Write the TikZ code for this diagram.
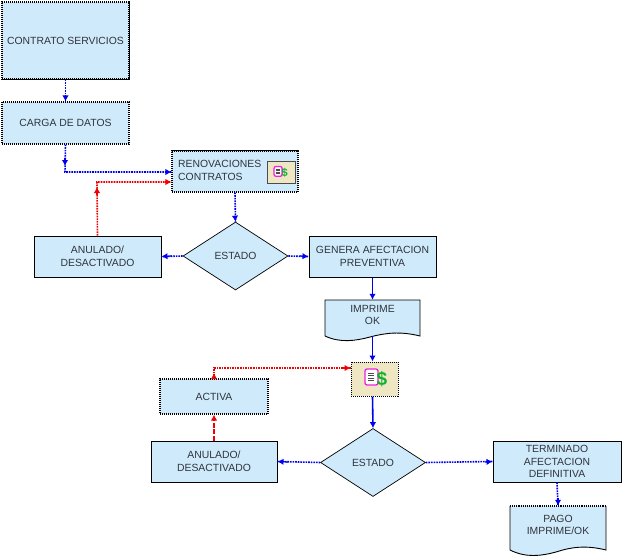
\documentclass[tikz,border=0pt]{standalone}
\usepackage{fontspec}
\setmainfont{Liberation Sans}
\usetikzlibrary{arrows.meta,shapes.geometric}
\definecolor{boxfill}{HTML}{CFEBFB}
\definecolor{icofill}{HTML}{EFE6C4}
\definecolor{txt}{HTML}{30343C}
\definecolor{flowblue}{HTML}{0000F0}
\definecolor{flowred}{HTML}{F00000}
\definecolor{icopink}{HTML}{F020E0}
\definecolor{icogreen}{HTML}{10B030}
\tikzset{
  x=1pt,y=-1pt,
  every node/.style={font=\fontsize{10.4}{12.5}\selectfont,text=txt,align=center,inner sep=0pt},
  plainbox/.style={rectangle,fill=boxfill,draw=black,line width=1pt},
  dotbox/.style={plainbox,densely dotted,line width=1.2pt},
  decision/.style={diamond,aspect=1.5,fill=boxfill,draw=black,line width=0.7pt,minimum width=105pt,minimum height=68pt},
  docshape/.style={fill=boxfill,draw=black,line width=0.9pt},
  bluesolid/.style={flowblue,line width=1.6pt},
  bluedot/.style={flowblue,line width=1.6pt,densely dotted},
  reddot/.style={flowred,line width=1.6pt,densely dotted},
  tip/.style={solid,-{Latex[length=6pt,width=6.5pt,sep=0pt]}},
  icobox/.style={rectangle,fill=icofill,draw=black!70,line width=1pt},
}
\newcommand{\icondoc}[4]{% centre x, centre y, scale, dollar size
  \begin{scope}[shift={(#1,#2)},scale=#3]
    \draw[icopink,fill=white,line width=1.3pt,rounded corners=2pt] (-8,-9) rectangle (5,7);
    \foreach \yy in {-5,-2.5,0,2.5}{\draw[black!70,line width=0.8pt] (-5,\yy) -- (1,\yy);}
    \node[font=\bfseries\fontsize{#4}{#4}\selectfont,text=icogreen] at (9,1) {\$};
  \end{scope}}
\begin{document}
\begin{tikzpicture}
\useasboundingbox (0,0) rectangle (623,559);
% document shapes
\draw[docshape] (325,300) -- (420,300) -- (420,336) .. controls (400,331) and (385,333) .. (370,337) .. controls (355,341) and (340,343) .. (325,336) -- cycle;
\fill[boxfill] (510,506) -- (606,506) -- (606,550) .. controls (586,545) and (571,547) .. (556,552) .. controls (541,556) and (526,558) .. (510,550) -- cycle;
\draw[black,line width=1.1pt,densely dotted] (510,506) -- (606,506);
\draw[black,line width=0.9pt] (606,506) -- (606,550) .. controls (586,545) and (571,547) .. (556,552) .. controls (541,556) and (526,558) .. (510,550) -- (510,506);
% boxes
\node[dotbox,minimum width=127pt,minimum height=77pt] (contrato) at (65.5,40.5) {CONTRATO SERVICIOS};
\node[dotbox,minimum width=127pt,minimum height=42pt] (carga) at (65.5,123) {CARGA DE DATOS};
\node[dotbox,minimum width=126pt,minimum height=41pt] (renov) at (235,171.5) {};
\node[anchor=west,align=left] (renovtxt) at (178,170.5) {RENOVACIONES\\CONTRATOS};
\node[plainbox,minimum width=127pt,minimum height=41pt] (anua) at (97.5,256.5) {ANULADO/\\DESACTIVADO};
\node[plainbox,minimum width=127pt,minimum height=41pt] (genera) at (372.5,256.5) {GENERA AFECTACION\\PREVENTIVA};
\node[decision] (esta) at (235.5,256) {ESTADO};
\node[minimum width=95pt,minimum height=36pt] (impr) at (372.5,318) {};
\node (imprtxt) at (372.5,315) {IMPRIME\\OK};
\node[dotbox,minimum width=108pt,minimum height=35pt] (activa) at (214,396.5) {ACTIVA};
\node[plainbox,minimum width=126pt,minimum height=41pt] (anub) at (214,461.5) {ANULADO/\\DESACTIVADO};
\node[decision] (estb) at (373,462.5) {ESTADO};
\node[plainbox,minimum width=128pt,minimum height=41pt] (term) at (557,461.5) {TERMINADO\\AFECTACION\\DEFINITIVA};
\node[minimum width=96pt,minimum height=44pt] (pago) at (558,528) {};
\node (pagotxt) at (558,525) {PAGO\\IMPRIME/OK};
% solid edges over dotted boxes
\draw[black,line width=1pt] (contrato.north east) -- (contrato.south east) -- (contrato.south west);
\draw[black,line width=1pt] (renov.north west) -- (renov.north east);
% icons
\node[icobox,minimum width=28pt,minimum height=22pt] (icoa) at (281,172) {};
\icondoc{279}{172}{0.62}{11}
\node[icobox,draw=black,densely dotted,minimum width=47pt,minimum height=34pt] (icob) at (374.5,379) {};
\icondoc{373}{378}{1}{19}
% helper points
\coordinate (cargacorner) at (65,172);
\coordinate (cargamid) at (65,166);
\coordinate (anucorner) at (97,182);
\coordinate (anumid) at (97,187);
\coordinate (actcorner) at (214,368);
\coordinate (actmid) at (214,373);
% connectors
\draw[bluedot] (contrato.south) -- (carga.north);
\draw[tip,flowblue,line width=1.2pt] (65.5,96) -- (carga.north);
\draw[bluedot] (carga.south) -- (cargacorner) -- (renov.west |- cargacorner);
\draw[tip,flowblue,line width=1.2pt] (65,158) -- (cargamid);
\draw[tip,flowblue,line width=1.2pt] (165,172) -- (renov.west |- cargacorner);
\draw[reddot] (anua.north) -- (anucorner) -- (renov.west |- anucorner);
\draw[tip,flowred,line width=1.2pt] (97,195) -- (anumid);
\draw[tip,flowred,line width=1.2pt] (165,182) -- (renov.west |- anucorner);
\draw[bluedot] (renov.south) -- (esta.north);
\draw[tip,flowblue,line width=1.2pt] (235,216) -- (esta.north);
\draw[bluedot] (esta.west) -- (anua.east);
\draw[tip,flowblue,line width=1.2pt] (172,256) -- (anua.east);
\draw[bluedot] (esta.east) -- (genera.west);
\draw[tip,flowblue,line width=1.2pt] (300,256) -- (genera.west);
\draw[tip,bluesolid] (genera.south) -- (impr.north);
\draw[tip,bluesolid] (impr.south) -- (impr.south |- icob.north);
\draw[tip,bluesolid] (impr.south |- icob.south) -- (estb.north);
\draw[reddot] (activa.north) -- (actcorner) -- (icob.west |- actcorner);
\draw[tip,flowred,line width=1.2pt] (214,378) -- (actmid);
\draw[tip,flowred,line width=1.2pt] (342,368) -- (icob.west |- actcorner);
\draw[tip,flowred,line width=1.6pt,dash pattern=on 5pt off 1.5pt] (anub.north) -- (activa.south);
\draw[bluedot] (estb.west) -- (anub.east);
\draw[tip,flowblue,line width=1.2pt] (288,462) -- (anub.east);
\draw[bluedot] (estb.east) -- (term.west);
\draw[tip,flowblue,line width=1.2pt] (485,462) -- (term.west);
\draw[bluedot] (term.south) -- (pago.north);
\draw[tip,flowblue,line width=1.2pt] (558,498) -- (pago.north);
\end{tikzpicture}
\end{document}
